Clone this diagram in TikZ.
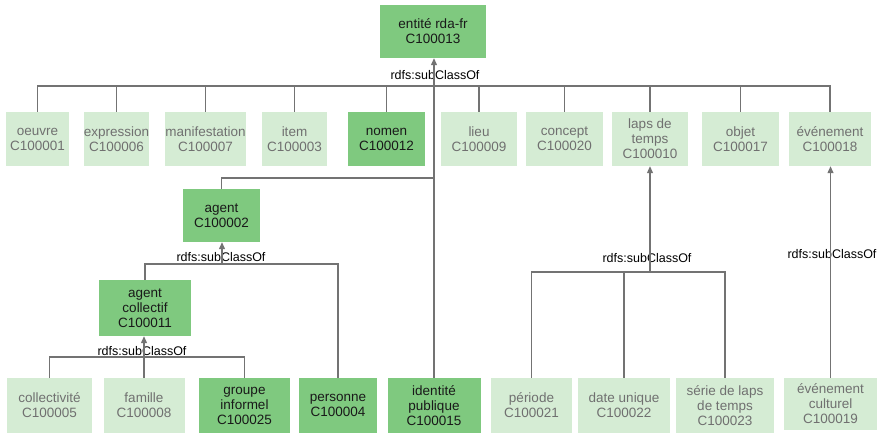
\documentclass[tikz,border=0pt]{standalone}
\usepackage{fontspec}
\setmainfont{Liberation Sans}
\usetikzlibrary{arrows.meta}
\definecolor{lightg}{HTML}{D5ECD4}
\definecolor{darkg}{HTML}{7FC97F}
\definecolor{lighttxt}{HTML}{707070}
\definecolor{linec}{HTML}{737373}
\begin{document}
\begin{tikzpicture}[x=1pt,y=-1pt,
  box/.style={inner sep=0pt, align=center, font=\fontsize{13.5}{15}\selectfont},
  lite/.style={box, fill=lightg, text=lighttxt},
  dark/.style={box, fill=darkg, text=black!90},
  conn/.style={draw=linec, line width=1.2pt},
  arr/.style={conn, -{Triangle[length=7pt,width=6pt]}},
  lbl/.style={font=\fontsize{12.5}{14}\selectfont, text=black, inner sep=0pt}]
\useasboundingbox (0,0) rectangle (885,440);

% top
\node[dark, minimum width=106, minimum height=53] (ent) at (433,31.5) {entité rda-fr\\C100013};

% row 1
\node[lite, minimum width=63, minimum height=54] (oeuvre) at (37.5,139) {oeuvre\\C100001};
\node[lite, minimum width=65, minimum height=54] (expr) at (116.5,139) {expression\\C100006};
\node[lite, minimum width=81, minimum height=54] (manif) at (205.5,139) {manifestation\\C100007};
\node[lite, minimum width=65, minimum height=54] (item) at (294.5,139) {item\\C100003};
\node[dark, minimum width=77, minimum height=54] (nomen) at (386.5,139) {nomen\\C100012};
\node[lite, minimum width=76, minimum height=54] (lieu) at (479,139) {lieu\\C100009};
\node[lite, minimum width=77, minimum height=54] (concept) at (564.5,139) {concept\\C100020};
\node[lite, minimum width=76, minimum height=54] (laps) at (650,139) {laps de\\temps\\C100010};
\node[lite, minimum width=77, minimum height=54] (objet) at (740.5,139) {objet\\C100017};
\node[lite, minimum width=82, minimum height=54] (evt) at (830,139) {événement\\C100018};

% agent
\node[dark, minimum width=77, minimum height=53] (agent) at (221.5,215.5) {agent\\C100002};
\node[dark, minimum width=92, minimum height=56] (ac) at (145,308) {agent\\collectif\\C100011};

% bottom row
\node[lite, minimum width=85, minimum height=55] (coll) at (49.5,405.5) {collectivité\\C100005};
\node[lite, minimum width=81, minimum height=55] (fam) at (144,405.5) {famille\\C100008};
\node[dark, minimum width=91, minimum height=55] (gi) at (244.5,405.5) {groupe\\informel\\C100025};
\node[dark, minimum width=78, minimum height=55] (pers) at (338,405.5) {personne\\C100004};
\node[dark, minimum width=93, minimum height=55] (ip) at (434,405.5) {identité\\publique\\C100015};
\node[lite, minimum width=81, minimum height=55] (per) at (531.5,405.5) {période\\C100021};
\node[lite, minimum width=92, minimum height=55] (du) at (624,405.5) {date unique\\C100022};
\node[lite, minimum width=98, minimum height=55] (serie) at (725,405.5) {série de laps\\de temps\\C100023};
\node[lite, minimum width=93, minimum height=52] (ec) at (830.5,404) {événement\\culturel\\C100019};

% labels
\node[lbl] (l1) at (435,75) {rdfs:subClassOf};
\node[lbl] (l2) at (221,257) {rdfs:subClassOf};
\node[lbl] (l3) at (142,351) {rdfs:subClassOf};
\node[lbl] (l4) at (647,258) {rdfs:subClassOf};
\node[lbl] (l5) at (832,254) {rdfs:subClassOf};

% junctions
\coordinate (tbar) at (434,86);
\coordinate (aj) at (434,178);
\coordinate (abar) at (222,264);
\coordinate (acbar) at (144,357);
\coordinate (lbar) at (650,272);

% top tree
\foreach \n in {oeuvre,expr,manif,item,nomen,lieu,concept,laps,objet,evt}
  \draw[conn] (\n.north) |- (tbar);
\draw[arr] (ip.north) -- (ip.north |- ent.south);
\draw[conn] (agent.north) |- (aj);

% agent tree
\draw[conn] (ac.north) |- (abar);
\draw[conn] (pers.north) |- (abar);
\draw[arr] (abar) -- (abar |- agent.south);

% agent collectif tree
\draw[conn] (coll.north) |- (acbar);
\draw[conn] (gi.north) |- (acbar);
\draw[arr] (fam.north) -- (fam.north |- ac.south);

% laps tree
\draw[conn] (per.north) |- (lbar);
\draw[conn] (du.north) |- (lbar);
\draw[conn] (serie.north) |- (lbar);
\draw[arr] (lbar) -- (laps.south);

% evenement
\draw[arr] (ec.north) -- (ec.north |- evt.south);
\end{tikzpicture}
\end{document}
